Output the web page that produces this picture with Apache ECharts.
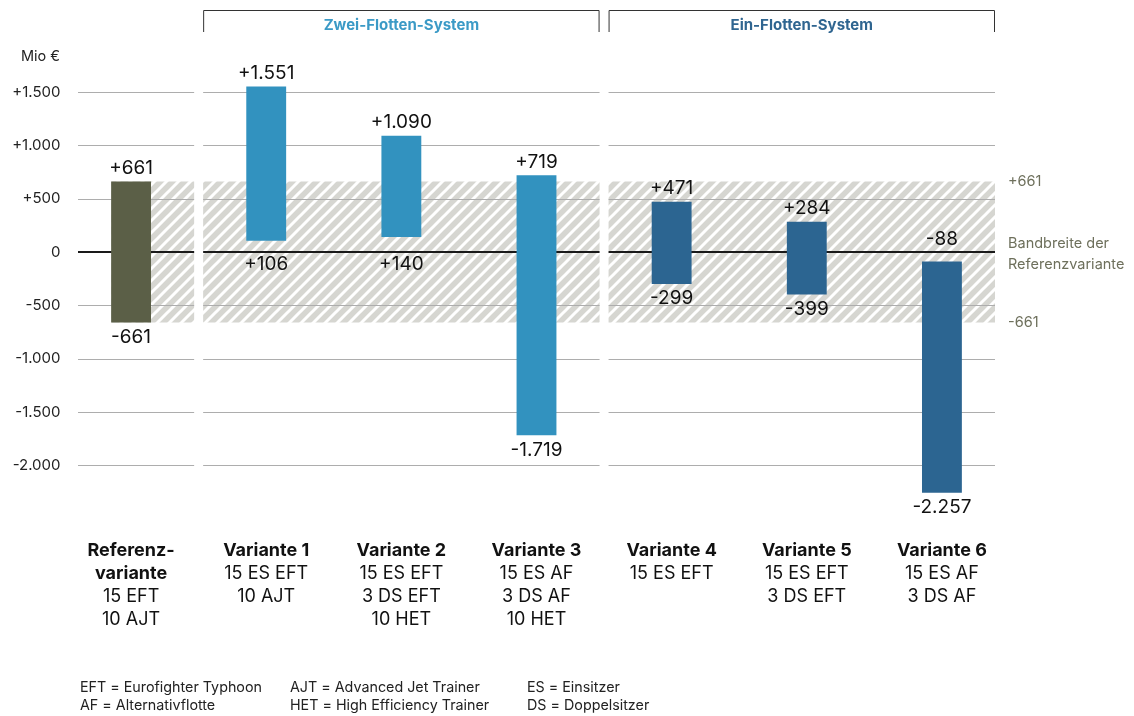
<!DOCTYPE html>
<html><head><meta charset="utf-8">
<script src="https://cdn.jsdelivr.net/npm/echarts@6/dist/echarts.min.js"></script>
<style>html,body{margin:0;padding:0;background:#fff}#c{width:1134px;height:716px}</style>
</head><body><div id="c"></div>
<script>
// ---- data ----
const categoryTitles = ['Referenz-\nvariante', 'Variante 1', 'Variante 2', 'Variante 3', 'Variante 4', 'Variante 5', 'Variante 6'];
const categoryDetails = ['15 EFT\n10 AJT', '15 ES EFT\n10 AJT', '15 ES EFT\n3 DS EFT\n10 HET', '15 ES AF\n3 DS AF\n10 HET', '15 ES EFT', '15 ES EFT\n3 DS EFT', '15 ES AF\n3 DS AF'];
const lowValues  = [-661, 106, 140, -1719, -299, -399, -2257];
const highValues = [661, 1551, 1090, 719, 471, 284, -88];
const groupOf    = [0, 1, 1, 1, 2, 2, 2];
const sections = [[0, 0], [1, 3], [4, 6]];
const sectionTitles = ['', 'Zwei-Flotten-System', 'Ein-Flotten-System'];
const gridTicks = [1500, 1000, 500, -500, -1000, -1500, -2000];
const bandRange = [-661, 661];
const yTickLabelsHidden = [2000, -2500];
const footnotes = [
  ['EFT = Eurofighter Typhoon', 'AF = Alternativflotte'],
  ['AJT = Advanced Jet Trainer', 'HET = High Efficiency Trainer'],
  ['ES = Einsitzer', 'DS = Doppelsitzer']
];

// ---- style ----
const FONT = 'Inter';
const groupColors = ['#5b5f47', '#3292bf', '#2c6591'];
const headerColors = ['', '#3b9ac6', '#2f6590'];
const sideColor = '#6e705c';

function fmt(v, sign) {
  const a = Math.abs(v).toString().replace(/\B(?=(\d{3})+(?!\d))/g, '.');
  if (v > 0) return (sign ? '+' : '') + a;
  if (v < 0) return '-' + a;
  return '0';
}

// hatch pattern
const P = 12;
const pc = document.createElement('canvas');
pc.width = P; pc.height = P;
const g = pc.getContext('2d');
g.fillStyle = '#d6d6d1'; g.fillRect(0, 0, P, P);
g.strokeStyle = '#ffffff'; g.lineWidth = 3;
g.beginPath();
g.moveTo(-P / 2, P / 2); g.lineTo(P / 2, -P / 2);
g.moveTo(0, P); g.lineTo(P, 0);
g.moveTo(P / 2, P * 1.5); g.lineTo(P * 1.5, P / 2);
g.stroke();
const hatch = { image: pc, repeat: 'repeat' };

const GAP_IN = 4.5, PAD_OUT = 14.5;
function sectionExtent(api, s) {
  const bw = api.size([1, 0])[0];
  const a = sections[s][0], b = sections[s][1];
  const l = api.coord([a, 0])[0] - bw / 2 + (s === 0 ? PAD_OUT : GAP_IN);
  const r = api.coord([b, 0])[0] + bw / 2 - (s === sections.length - 1 ? PAD_OUT : GAP_IN);
  return [l, r];
}

const chart = echarts.init(document.getElementById('c'), null, { renderer: 'canvas' });
chart.setOption({
  animation: false,
  textStyle: { fontFamily: FONT },
  grid: { left: 63.5, right: 124.5, top: 38.67, height: 480 },
  xAxis: {
    type: 'category', data: categoryTitles,
    axisLine: { show: false }, axisTick: { show: false },
    axisLabel: {
      margin: 20, interval: 0,
      formatter: (v, i) => {
        const t = categoryTitles[i].split('\n').map(s => '{b|' + s + '}').join('\n');
        const d = categoryDetails[i].split('\n').map(s => '{n|' + s + '}').join('\n');
        return t + '\n' + d;
      },
      rich: {
        b: { fontFamily: FONT, fontWeight: 'bold', fontSize: 18, lineHeight: 23, color: '#111' },
        n: { fontFamily: FONT, fontSize: 18, lineHeight: 23, color: '#111' }
      }
    }
  },
  yAxis: {
    type: 'value', min: -2500, max: 2000, interval: 500,
    splitLine: { show: false }, axisLine: { show: false }, axisTick: { show: false },
    axisLabel: {
      margin: 3, fontFamily: FONT, fontSize: 15, color: '#222',
      formatter: v => yTickLabelsHidden.includes(v) ? '' : fmt(v, true)
    }
  },
  series: [
    { // hatched band
      type: 'custom', silent: true, z: 1,
      data: [[0, bandRange[0], bandRange[1]]],
      encode: { x: 0, y: [1, 2] },
      renderItem: (params, api) => {
        const y1 = api.coord([0, api.value(2)])[1];
        const y0 = api.coord([0, api.value(1)])[1];
        const bw = api.size([1, 0])[0];
        const children = sections.map((s, k) => {
          let [l, r] = sectionExtent(api, k);
          if (k === 0) l = api.coord([0, 0])[0] - bw * 0.145;
          return { type: 'rect', shape: { x: l, y: y1, width: r - l, height: y0 - y1 }, style: { fill: hatch } };
        });
        return { type: 'group', children };
      }
    },
    { // grid lines
      type: 'custom', silent: true, z: 2,
      data: gridTicks.map(v => [0, v]),
      encode: { x: 0, y: 1 },
      renderItem: (params, api) => {
        const y = Math.round(api.coord([0, api.value(1)])[1]) + 0.5;
        return { type: 'group', children: sections.map((s, k) => {
          const [l, r] = sectionExtent(api, k);
          return { type: 'line', shape: { x1: l, y1: y, x2: r, y2: y }, style: { stroke: '#adadad', lineWidth: 1 } };
        }) };
      }
    },
    { // zero line
      type: 'custom', silent: true, z: 3,
      data: [[0, 0]],
      encode: { x: 0, y: 1 },
      renderItem: (params, api) => {
        const y = api.coord([0, api.value(1)])[1];
        return { type: 'group', children: sections.map((s, k) => {
          const [l, r] = sectionExtent(api, k);
          return { type: 'line', shape: { x1: l, y1: y, x2: r, y2: y }, style: { stroke: '#1a1a1a', lineWidth: 2 } };
        }) };
      }
    },
    { // floating bars
      type: 'custom', z: 5,
      data: lowValues.map((lo, i) => [i, lo, highValues[i]]),
      encode: { x: 0, y: [1, 2] },
      renderItem: (params, api) => {
        const i = api.value(0);
        const lo = api.value(1), hi = api.value(2);
        const top = api.coord([i, hi]);
        const bot = api.coord([i, lo]);
        const zeroY = api.coord([i, 0])[1];
        const w = api.size([1, 0])[0] * 0.295;
        // keep labels clear of the zero line
        const topLabelY = hi < 0 ? zeroY - 3 : top[1] - 4;
        const botLabelY = lo > 0 ? zeroY + 3 : bot[1] + 5;
        return { type: 'group', children: [
          { type: 'rect', shape: { x: top[0] - w / 2, y: top[1], width: w, height: bot[1] - top[1] },
            style: { fill: groupColors[groupOf[i]] } },
          { type: 'text', x: top[0], y: topLabelY,
            style: { text: fmt(hi, true), fontFamily: FONT, fontSize: 19, fill: '#111', align: 'center', verticalAlign: 'bottom' } },
          { type: 'text', x: top[0], y: botLabelY,
            style: { text: fmt(lo, true), fontFamily: FONT, fontSize: 19, fill: '#111', align: 'center', verticalAlign: 'top' } }
        ] };
      }
    }
  ]
});

// annotations placed from the chart's own scales
const px = (i) => chart.convertToPixel({ xAxisIndex: 0 }, i);
const py = (v) => chart.convertToPixel({ yAxisIndex: 0 }, v);
const bw = px(1) - px(0);
const graphics = [];
sections.forEach((s, k) => {
  if (!sectionTitles[k]) return;
  const l = px(s[0]) - bw / 2 + GAP_IN;
  const r = px(s[1]) + bw / 2 - (k === sections.length - 1 ? PAD_OUT : GAP_IN);
  graphics.push({ type: 'polyline', shape: { points: [[l + 0.5, 32], [l + 0.5, 10.5], [r - 0.5, 10.5], [r - 0.5, 32]] },
    style: { stroke: '#333', lineWidth: 1, fill: null } });
  graphics.push({ type: 'text', x: (l + r) / 2, y: 25,
    style: { text: sectionTitles[k], fontFamily: FONT, fontWeight: 'bold', fontSize: 15, fill: headerColors[k], align: 'center', verticalAlign: 'middle' } });
});
const sideX = px(sections[2][1]) + bw / 2 - PAD_OUT + 13;
graphics.push({ type: 'text', x: sideX, y: py(bandRange[1]),
  style: { text: fmt(bandRange[1], true), fontFamily: FONT, fontSize: 14.5, fill: sideColor, verticalAlign: 'middle' } });
graphics.push({ type: 'text', x: sideX, y: py(0) + 2,
  style: { text: 'Bandbreite der\nReferenzvariante', fontFamily: FONT, fontSize: 14.5, lineHeight: 21, fill: sideColor, verticalAlign: 'middle' } });
graphics.push({ type: 'text', x: sideX, y: py(bandRange[0]),
  style: { text: fmt(bandRange[0], true), fontFamily: FONT, fontSize: 14.5, fill: sideColor, verticalAlign: 'middle' } });
graphics.push({ type: 'text', x: 60, y: 57,
  style: { text: 'Mio €', fontFamily: FONT, fontSize: 14.5, fill: '#222', align: 'right', verticalAlign: 'middle' } });
const footX = [80, 290, 527];
footnotes.forEach((col, c) => col.forEach((t, r) => {
  graphics.push({ type: 'text', x: footX[c], y: 688 + r * 18,
    style: { text: t, fontFamily: FONT, fontSize: 14.3, fill: '#222', verticalAlign: 'middle' } });
}));
chart.setOption({ graphic: graphics });
</script>
</body></html>
